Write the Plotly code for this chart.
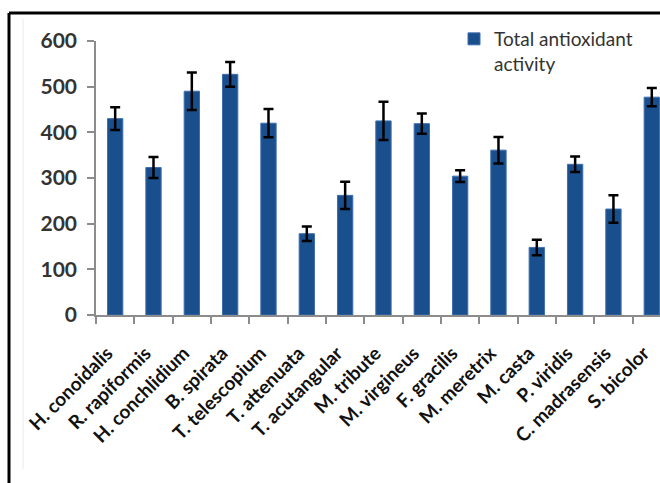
import plotly.graph_objects as go

species = ["H. conoidalis", "R. rapiformis", "H. conchlidium", "B. spirata", "T. telescopium",
           "T. attenuata", "T. acutangular", "M. tribute", "M. virgineus", "F. gracilis",
           "M. meretrix", "M. casta", "P. viridis", "C. madrasensis", "S. bicolor"]
activity = [430, 323, 490, 527, 420, 178, 262, 425, 419, 304, 361, 148, 330, 232, 477]
errors = [25, 23, 41, 27, 31, 16, 30, 42, 22, 13, 29, 17, 17, 30, 20]
y_ticks = [0, 100, 200, 300, 400, 500, 600]

W, H = 660, 483
L, R, T = 96, 0, 41
B = H - 315
pw, ph = W - L - R, H - T - B
cat_px = 38.33

def px_x(x):  # reference pixel -> paper
    return (x - L) / pw

def px_y(y):
    return (H - B - y) / ph

fig = go.Figure()
fig.add_trace(go.Bar(
    x=species, y=activity, name="Total antioxidant<br>activity",
    marker=dict(color="#1a4f8d", line=dict(color="#3f6fae", width=1)),
    width=0.4,
    error_y=dict(type="data", array=errors, visible=True, color="black", thickness=2.5, width=5),
    showlegend=True,
))

fig.update_layout(
    width=W, height=H,
    margin=dict(l=L, r=R, t=T, b=B, autoexpand=False),
    plot_bgcolor="white", paper_bgcolor="white",
    font=dict(family="Lato, Open Sans, sans-serif", color="#222"),
    xaxis=dict(
        range=[-0.5, -0.5 + pw / cat_px],
        showline=True, linecolor="#8c8c8c", linewidth=1.5,
        ticks="outside", tickson="boundaries", ticklen=7, tickcolor="#8c8c8c", tickwidth=1.5,
        tickangle=-45, ticklabelstandoff=18, ticklabelshift=-8,
        tickfont=dict(size=19, color="#111", family="Lato, sans-serif", weight="bold"),
        showgrid=False, zeroline=False, automargin=False,
    ),
    yaxis=dict(
        range=[0, 600], tickvals=y_ticks,
        showline=True, linecolor="#8c8c8c", linewidth=1.5,
        ticks="outside", ticklen=7, tickcolor="#8c8c8c", tickwidth=1.5,
        tickfont=dict(size=21, color="#333", weight="bold"), ticklabelstandoff=6,
        showgrid=False, zeroline=False, automargin=False,
    ),
    legend=dict(x=px_x(454), y=px_y(20), xanchor="left", yanchor="top",
                valign="top", font=dict(size=19, color="#333"), bgcolor="rgba(0,0,0,0)"),
)

# outer frame (black) and faint inner chart-area border
fig.add_shape(type="line", xref="paper", yref="paper",
              x0=px_x(9), x1=px_x(670), y0=px_y(13), y1=px_y(13),
              line=dict(color="black", width=3))
fig.add_shape(type="line", xref="paper", yref="paper",
              x0=px_x(9), x1=px_x(9), y0=px_y(13), y1=px_y(490),
              line=dict(color="black", width=3))
fig.add_shape(type="line", xref="paper", yref="paper",
              x0=px_x(23), x1=px_x(23), y0=px_y(19), y1=px_y(469),
              line=dict(color="#ececec", width=1))

fig.write_html("out.html",
               config={"displayModeBar": False},
               post_script="document.body.style.margin='0';document.body.style.overflow='hidden';")
